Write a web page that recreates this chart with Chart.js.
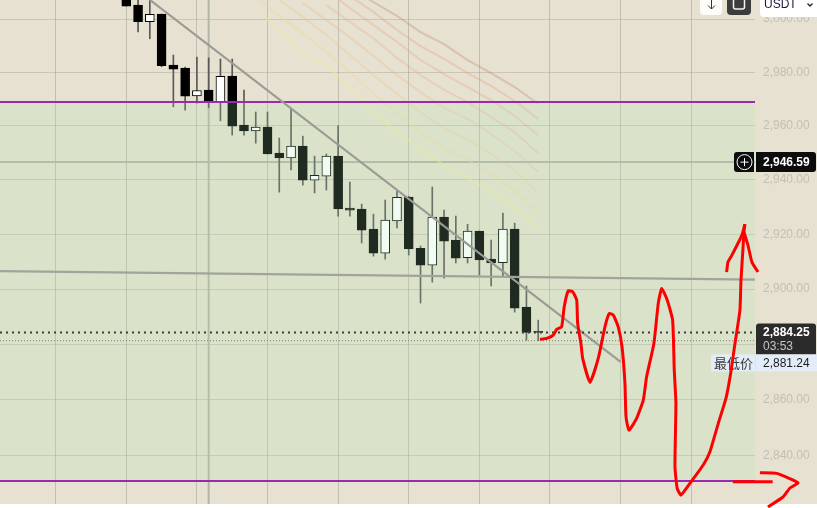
<!DOCTYPE html>
<html>
<head>
<meta charset="utf-8">
<title>XAU/USDT</title>
<style>
  html, body { margin: 0; padding: 0; background: #fff; }
  #wrap { position: relative; width: 817px; height: 508px; overflow: hidden; }
  #bg { position: absolute; left: 0; top: 0; width: 817px; height: 504px; background: #e6e1d0; }
  #grafiek { position: absolute; left: 0; top: 0; }
</style>
</head>
<body>
<div id="wrap">
  <div id="bg"></div>
  <canvas id="grafiek" width="817" height="508"></canvas>
</div>
<script src="https://cdn.jsdelivr.net/npm/chart.js@4/dist/chart.umd.min.js"></script>
<script>
// Axis ranges and tick values
const xMin = -10.73;
const xMax = 53.42;
const yMax = 3007.19;
const yMin = 2822.76;
const xGrid = [-6, 0, 6, 12, 18, 24, 30, 36, 42, 48];
const yTicks = [3000, 2980, 2960, 2940, 2920, 2900, 2880, 2860, 2840];

// Candles, one value per candle
const opens = [3012, 3005.3, 2999.0, 3001.9, 2982.7, 2981.6, 2971.2, 2973.4, 2968.9, 2978.6, 2960.3, 2958.2, 2959.6, 2949.9, 2948.1, 2952.5, 2939.95, 2941.4, 2948.8, 2929.6, 2929.3, 2921.9, 2913.1, 2924.9, 2933.7, 2914.9, 2908.7, 2926.3, 2917.9, 2911.4, 2921.2, 2910.9, 2909.6, 2921.9, 2893.4, 2884.6];
const closes = [3004.9, 2999.0, 3001.8, 2982.5, 2981.2, 2971.1, 2973.2, 2968.9, 2978.5, 2959.9, 2958.2, 2959.6, 2949.6, 2948.1, 2952.5, 2939.95, 2941.7, 2948.8, 2929.3, 2928.9, 2921.5, 2913.1, 2925.2, 2933.6, 2914.6, 2908.7, 2926.3, 2917.5, 2911.3, 2921.2, 2910.6, 2909.5, 2921.9, 2893.0, 2884.25, 2884.25];
const highs = [3012, 3008.3, 3009.1, 3001.9, 2986.5, 2982.0, 2985.7, 2985.4, 2985.0, 2985.0, 2973.4, 2965.2, 2965.2, 2955.5, 2966.3, 2956.2, 2948.8, 2949.6, 2960.0, 2939.2, 2931.1, 2927.4, 2932.6, 2935.9, 2934.0, 2915.7, 2937.4, 2928.9, 2926.7, 2923.7, 2921.2, 2917.9, 2927.8, 2924.1, 2901.1, 2888.7];
const lows = [3004.9, 2995.2, 2992.6, 2982.1, 2967.1, 2965.9, 2968.5, 2966.8, 2961.9, 2956.6, 2956.6, 2953.6, 2949.6, 2935.5, 2943.7, 2938.1, 2935.2, 2936.3, 2926.7, 2926.7, 2916.8, 2912.0, 2910.9, 2922.3, 2912.4, 2894.9, 2902.5, 2904.0, 2909.5, 2909.5, 2905.1, 2901.1, 2904.7, 2891.6, 2881.4, 2881.24];

// Faded ribbon lines, all of them end at the last value of ribbonX
const ribbonX = [11, 13, 15, 17, 19, 21, 23, 25, 27, 29, 31, 33, 35];
const ribbon1 = [3012.1, 3006.4, 3001.2, 2995.1, 2990.6, 2984.6, 2979.7, 2974.5, 2968.15];
const ribbon2 = [3008.7, 3002.7, 2995.9, 2989.8, 2985.0, 2979.7, 2974.9, 2969.3, 2962.6];
const ribbon3 = [3011.0, 3004.2, 2997.7, 2991.4, 2984.6, 2979.3, 2974.5, 2969.65, 2963.7, 2956.6];
const ribbon4 = [3005.3, 2998.9, 2992.8, 2985.4, 2979.0, 2973.4, 2968.9, 2963.3, 2957.7, 2949.9];
const ribbon5 = [3006.1, 2999.6, 2993.2, 2986.1, 2979.0, 2972.6, 2966.7, 2962.6, 2957.0, 2950.7, 2942.9];
const ribbon6 = [3007.2, 3000.8, 2994.0, 2986.5, 2979.0, 2971.9, 2965.2, 2959.2, 2954.8, 2949.6, 2943.7, 2935.2];
const ribbon7 = [3008.3, 3001.2, 2994.7, 2987.6, 2980.1, 2971.9, 2964.8, 2957.7, 2951.8, 2947.4, 2942.2, 2935.9, 2927.8];
const ribbon8 = [3004.2, 2995.5, 2986.5, 2982.7, 2974.5, 2965.2, 2957.7, 2951.4, 2945.5, 2940.7, 2935.9, 2929.6, 2922.65];
const ribbons = [ribbon1, ribbon2, ribbon3, ribbon4, ribbon5, ribbon6, ribbon7, ribbon8];
const ribbonColors = ['rgba(190,120,95,0.30)', 'rgba(232,140,120,0.28)', 'rgba(232,145,120,0.26)', 'rgba(235,160,125,0.26)', 'rgba(238,180,130,0.28)', 'rgba(240,195,135,0.30)', 'rgba(240,215,145,0.34)', 'rgba(240,235,150,0.50)'];

// Price levels and drawn lines
const zoneTop = 2968.9;
const zoneBottom = 2830.92;
const crossPrice = 2946.59;
const lastPrice = 2884.25;
const lowPrice = 2881.24;
const crossCandle = 7;
const trendX = [2.01, 42.0];
const trendY = [3007.19, 2873.62];
const flatX = [xMin, xMax];
const flatY = [2906.54, 2903.44];

// Red pen strokes on top of the chart
const penCurveX = [35.15, 35.72, 36.28, 36.57, 36.99, 37.21, 37.55, 37.93, 38.27, 38.35, 38.63, 38.78, 39.4, 40.1, 40.67, 41.04, 41.38, 41.8, 42.12, 42.37, 42.46, 42.71, 43.36, 43.93, 44.21, 44.83, 45.2, 45.49, 45.96, 46.42, 46.56, 46.7, 46.62, 46.81, 47.13, 47.89, 49.02, 49.59, 50.3, 50.95, 51.35, 51.72, 52.14, 52.23, 52.39, 52.48, 52.56];
const penCurveY = [2881.72, 2882.08, 2883.28, 2885.34, 2886.28, 2893.54, 2899.36, 2899.0, 2895.98, 2887.52, 2880.27, 2874.85, 2866.2, 2874.85, 2886.28, 2891.14, 2890.52, 2886.28, 2879.04, 2865.84, 2853.85, 2848.98, 2853.28, 2859.84, 2868.21, 2880.27, 2894.77, 2900.23, 2895.98, 2888.71, 2870.64, 2858.66, 2836.01, 2828.32, 2825.95, 2830.1, 2836.61, 2841.34, 2851.49, 2860.45, 2869.44, 2880.27, 2892.34, 2903.25, 2914.22, 2920.81, 2923.75];
const penRightX = [52.48, 52.82, 53.16, 53.67];
const penRightY = [2920.81, 2916.05, 2909.82, 2906.18];
const penLeftX = [52.56, 52.31, 51.46, 51.12, 51.01];
const penLeftY = [2923.75, 2919.71, 2912.39, 2909.82, 2906.18];
const penShaftX = [51.54, 54.92];
const penShaftY = [2830.67, 2830.67];
const penHeadX = [53.84, 55.26, 57.07, 56.39, 55.8, 54.52];
const penHeadY = [2833.87, 2833.65, 2830.32, 2828.44, 2825.24, 2821.7];

// Turn two lists into points for a dataset
function toPoints(xs, ys) {
    return xs.map((x, i) => ({ x: x, y: ys[i] }));
}

// Plain line dataset without point markers
function lineSet(points, color, width, order, dash) {
    return {
        type: 'line',
        data: points,
        borderColor: color,
        borderWidth: width,
        borderDash: dash || [],
        pointRadius: 0,
        order: order
    };
}

// Red hand drawn stroke, it may run over the price axis
function penSet(xs, ys) {
    const set = lineSet(toPoints(xs, ys), '#ff0000', 3, 1);
    set.tension = 0.15;
    set.clip = false;
    set.isPen = true;
    return set;
}

// Draw the price tags and buttons just under the red pen
function drawLabels(chart) {
    const ctx = chart.ctx;
    const y = chart.scales.y;
    ctx.save();
    ctx.textBaseline = 'middle';

    // Crosshair price tag with plus button
    const crossY = y.getPixelForValue(crossPrice);
    ctx.fillStyle = '#0c0c0c';
    ctx.beginPath();
    ctx.roundRect(734, crossY - 10, 20, 20, [3, 0, 0, 3]);
    ctx.fill();
    ctx.beginPath();
    ctx.roundRect(756, crossY - 10, 60, 20, [0, 3, 3, 0]);
    ctx.fill();
    ctx.strokeStyle = '#fff';
    ctx.lineWidth = 1;
    ctx.beginPath();
    ctx.arc(744.5, crossY, 7.5, 0, Math.PI * 2);
    ctx.moveTo(740.5, crossY);
    ctx.lineTo(748.5, crossY);
    ctx.moveTo(744.5, crossY - 4);
    ctx.lineTo(744.5, crossY + 4);
    ctx.stroke();
    ctx.fillStyle = '#fff';
    ctx.font = 'bold 12px "Liberation Sans"';
    ctx.fillText(crossPrice.toLocaleString('en-US', { minimumFractionDigits: 2 }), 763, crossY + 1);

    // Last price tag with countdown
    const lastY = y.getPixelForValue(lastPrice);
    ctx.fillStyle = '#2b2b2b';
    ctx.beginPath();
    ctx.roundRect(756, lastY - 9, 60, 31, [3, 3, 0, 0]);
    ctx.fill();
    ctx.fillStyle = '#fff';
    ctx.fillText(lastPrice.toLocaleString('en-US', { minimumFractionDigits: 2 }), 763, lastY);
    ctx.fillStyle = '#c4c4c4';
    ctx.font = '12px "Liberation Sans"';
    ctx.fillText('03:53', 763, lastY + 14);

    // Lowest price tag sits right below the last price tag
    const lowBoxY = lastY + 22;
    ctx.fillStyle = '#e2edf9';
    ctx.fillRect(711, lowBoxY, 44, 17);
    ctx.fillRect(756, lowBoxY, 61, 17);
    ctx.fillStyle = '#3a3a3a';
    ctx.font = '13px "Noto Sans CJK SC"';
    ctx.fillText('最低价', 714, lowBoxY + 9);
    ctx.fillStyle = '#1c1c1c';
    ctx.font = '12px "Liberation Sans"';
    ctx.fillText(lowPrice.toLocaleString('en-US', { minimumFractionDigits: 2 }), 763, lowBoxY + 9);

    // Buttons at the top right, cut off by the window
    ctx.fillStyle = '#fdfcf7';
    ctx.beginPath();
    ctx.roundRect(700, -8, 22, 23, 4);
    ctx.fill();
    ctx.strokeStyle = '#333';
    ctx.beginPath();
    ctx.moveTo(711.5, 0);
    ctx.lineTo(711.5, 9);
    ctx.moveTo(708, 5.5);
    ctx.lineTo(711.5, 9);
    ctx.lineTo(715, 5.5);
    ctx.stroke();
    ctx.fillStyle = '#3c3c3c';
    ctx.beginPath();
    ctx.roundRect(727, -8, 24, 23, 4);
    ctx.fill();
    ctx.strokeStyle = '#f2f2f2';
    ctx.lineWidth = 1.5;
    ctx.beginPath();
    ctx.roundRect(733.5, -4, 11, 13, 2);
    ctx.stroke();
    ctx.fillStyle = '#fff';
    ctx.beginPath();
    ctx.roundRect(760, -8, 60, 25, 4);
    ctx.fill();
    ctx.fillStyle = '#1b1b3c';
    ctx.font = '12px "Liberation Sans"';
    ctx.fillText('USDT', 764, 5);
    ctx.strokeStyle = '#222';
    ctx.lineWidth = 1.3;
    ctx.beginPath();
    ctx.moveTo(807.5, 3.5);
    ctx.lineTo(810, 6);
    ctx.lineTo(812.5, 3.5);
    ctx.stroke();
    ctx.restore();
}

const labelPlugin = {
    id: 'labelPlugin',
    beforeDatasetsDraw(chart) {
        // Nothing yet, the labels go in just before the first pen stroke
        chart.$labelsDone = false;
    },
    beforeDatasetDraw(chart, args) {
        if (!chart.$labelsDone && chart.data.datasets[args.index].isPen) {
            drawLabels(chart);
            chart.$labelsDone = true;
        }
    }
};

// Build the datasets, low order numbers are drawn last
const candleIndex = opens.map((v, i) => i);
const datasets = [];

// The crosshair lines run behind the candles
datasets.push(lineSet(toPoints([crossCandle, crossCandle], [yMax, yMin]), '#b4b5a9', 2, 32));
datasets.push(lineSet(toPoints([xMin, xMax], [crossPrice, crossPrice]), '#b4b5a9', 2, 31));

datasets.push({
    type: 'bar',
    data: candleIndex.map(i => ({ x: i, y: [lows[i], highs[i]] })),
    backgroundColor: '#585858',
    borderWidth: 0,
    barThickness: 1,
    grouped: false,
    order: 30
});
datasets.push({
    type: 'bar',
    data: candleIndex.map(i => ({ x: i, y: [opens[i], closes[i]] })),
    backgroundColor: candleIndex.map(i => closes[i] > opens[i] ? '#ffffff' : '#000000'),
    borderColor: '#000000',
    borderWidth: 1,
    borderSkipped: false,
    barThickness: 9,
    grouped: false,
    order: 29
});

ribbons.forEach((values, n) => {
    datasets.push(lineSet(toPoints(ribbonX.slice(-values.length), values), ribbonColors[n], 2, 28 - n));
});

// Green zone between the two purple levels, tints everything under it
const zoneSet = lineSet(toPoints([xMin, xMax], [zoneTop, zoneTop]), 'rgba(0,0,0,0)', 0, 15);
zoneSet.fill = { value: zoneBottom };
zoneSet.backgroundColor = 'rgba(172,233,178,0.18)';
datasets.push(zoneSet);

datasets.push(lineSet(toPoints(flatX, flatY), '#a0a49a', 2.2, 12));
datasets.push(lineSet(toPoints([xMin, xMax], [zoneTop, zoneTop]), '#9c27b0', 2, 11));
datasets.push(lineSet(toPoints([xMin, xMax], [zoneBottom, zoneBottom]), '#9c27b0', 2, 10));
datasets.push(lineSet(toPoints(trendX, trendY), '#9a9b94', 2.2, 9));
datasets.push(lineSet(toPoints([xMin, xMax], [lastPrice, lastPrice]), '#3a3f38', 2, 8, [2, 4]));
datasets.push(lineSet(toPoints([xMin, xMax], [lowPrice, lowPrice]), '#777a70', 1, 7, [1, 2]));

datasets.push(penSet(penCurveX, penCurveY));
datasets.push(penSet(penRightX, penRightY));
datasets.push(penSet(penLeftX, penLeftY));
datasets.push(penSet(penShaftX, penShaftY));
datasets.push(penSet(penHeadX, penHeadY));

new Chart(document.getElementById('grafiek').getContext('2d'), {
    type: 'bar',
    data: { datasets: datasets },
    plugins: [labelPlugin],
    options: {
        responsive: false,
        animation: false,
        layout: { padding: { left: 0, right: 0, top: 0, bottom: 4 } },
        plugins: { legend: { display: false }, tooltip: { enabled: false } },
        scales: {
            x: {
                type: 'linear',
                offset: false,
                min: xMin,
                max: xMax,
                afterBuildTicks(scale) {
                    scale.ticks = xGrid.map(v => ({ value: v }));
                },
                ticks: { display: false },
                border: { display: false },
                grid: { offset: false, color: 'rgba(130,130,115,0.35)', lineWidth: 1, drawTicks: false }
            },
            y: {
                type: 'logarithmic',
                position: 'right',
                min: yMin,
                max: yMax,
                afterFit(scale) {
                    // Labels at the ends must not push the plot area in
                    scale.width = 62;
                    scale.paddingTop = 0;
                    scale.paddingBottom = 0;
                },
                afterBuildTicks(scale) {
                    scale.ticks = yTicks.map(v => ({ value: v }));
                },
                ticks: {
                    autoSkip: false,
                    padding: 8,
                    color: '#c2c0b5',
                    font: { family: '"Liberation Sans"', size: 12 },
                    callback: v => v.toLocaleString('en-US', { minimumFractionDigits: 2 })
                },
                border: { display: false },
                grid: { color: 'rgba(130,130,115,0.28)', lineWidth: 1, drawTicks: false }
            }
        }
    }
});
</script>
</body>
</html>
